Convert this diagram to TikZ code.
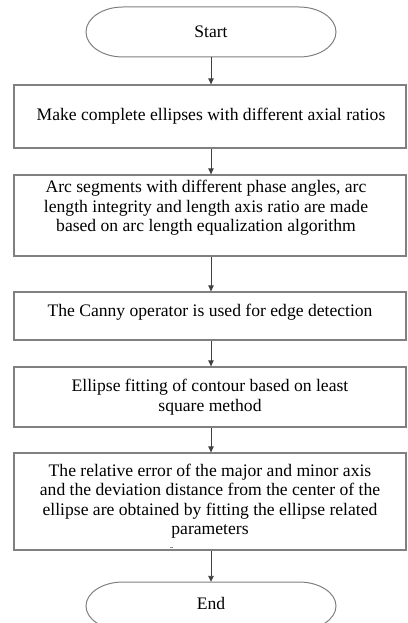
\documentclass[tikz,border=0pt]{standalone}
\usepackage{fontspec}
\setmainfont{Liberation Serif}
\usetikzlibrary{arrows.meta}
\begin{document}
\begin{tikzpicture}[x=1pt,y=-1pt,
  boxline/.style={draw=black!50, line width=1.3pt},
  stepbox/.style={boxline, minimum width=392pt, inner sep=0pt},
  label/.style={align=center, font=\fontsize{17.6}{19.5}\selectfont, inner sep=0pt},
  flow/.style={draw=black!75, line width=0.9pt, -{Triangle[length=6pt,width=5.5pt]}},
  terminal/.style={minimum width=250pt, minimum height=50pt, inner sep=0pt}]
\useasboundingbox (0,0) rectangle (407,623);

% terminals with elliptic ends
\node[terminal] (start) at (211,32) {};
\node[label] at (start.center) {Start};
\draw[boxline, line width=1pt] (123,7) -- (299,7) arc[start angle=90, end angle=-90, x radius=37pt, y radius=25pt]
  -- (123,57) arc[start angle=270, end angle=90, x radius=37pt, y radius=25pt] -- cycle;

\node[terminal, minimum height=48pt] (end) at (211,606) {};
\node[label] at (211,603) {End};
\draw[boxline, line width=1pt] (123,582) -- (299,582) arc[start angle=90, end angle=-90, x radius=37pt, y radius=24pt]
  -- (123,630) arc[start angle=270, end angle=90, x radius=37pt, y radius=24pt] -- cycle;

% process boxes
\node[stepbox, minimum height=63pt] (b1) at (210,116.5) {};
\node[label] at (211,116.5) {Make complete ellipses with different axial ratios};

\node[stepbox, minimum height=81pt] (b2) at (210,215.5) {};
\node[label] at (206,208) {Arc segments with different phase angles, arc\\length integrity and length axis ratio are made\\based on arc length equalization algorithm};

\node[stepbox, minimum height=48pt] (b3) at (210,316) {};
\node[label] at (210,312) {The Canny operator is used for edge detection};

\node[stepbox, minimum height=60pt] (b4) at (210,397) {};
\node[label] at (210,397) {Ellipse fitting of contour based on least\\square method};

\node[stepbox, minimum height=97pt] (b5) at (210,501.5) {};
\node[label] at (210,501) {The relative error of the major and minor axis\\and the deviation distance from the center of the\\ellipse are obtained by fitting the ellipse related\\parameters};
\draw[black!45, line width=0.6pt] (170,547.5) -- (173,547.5);

% connectors
\draw[flow] (start.south) -- (start.south |- b1.north);
\draw[flow] (b1.south -| start.south) -- (start.south |- b2.north);
\draw[flow] (b2.south -| start.south) -- (start.south |- b3.north);
\draw[flow] (b3.south -| start.south) -- (start.south |- b4.north);
\draw[flow] (b4.south -| start.south) -- (start.south |- b5.north);
\draw[flow] (b5.south -| start.south) -- (end.north);
\end{tikzpicture}
\end{document}
